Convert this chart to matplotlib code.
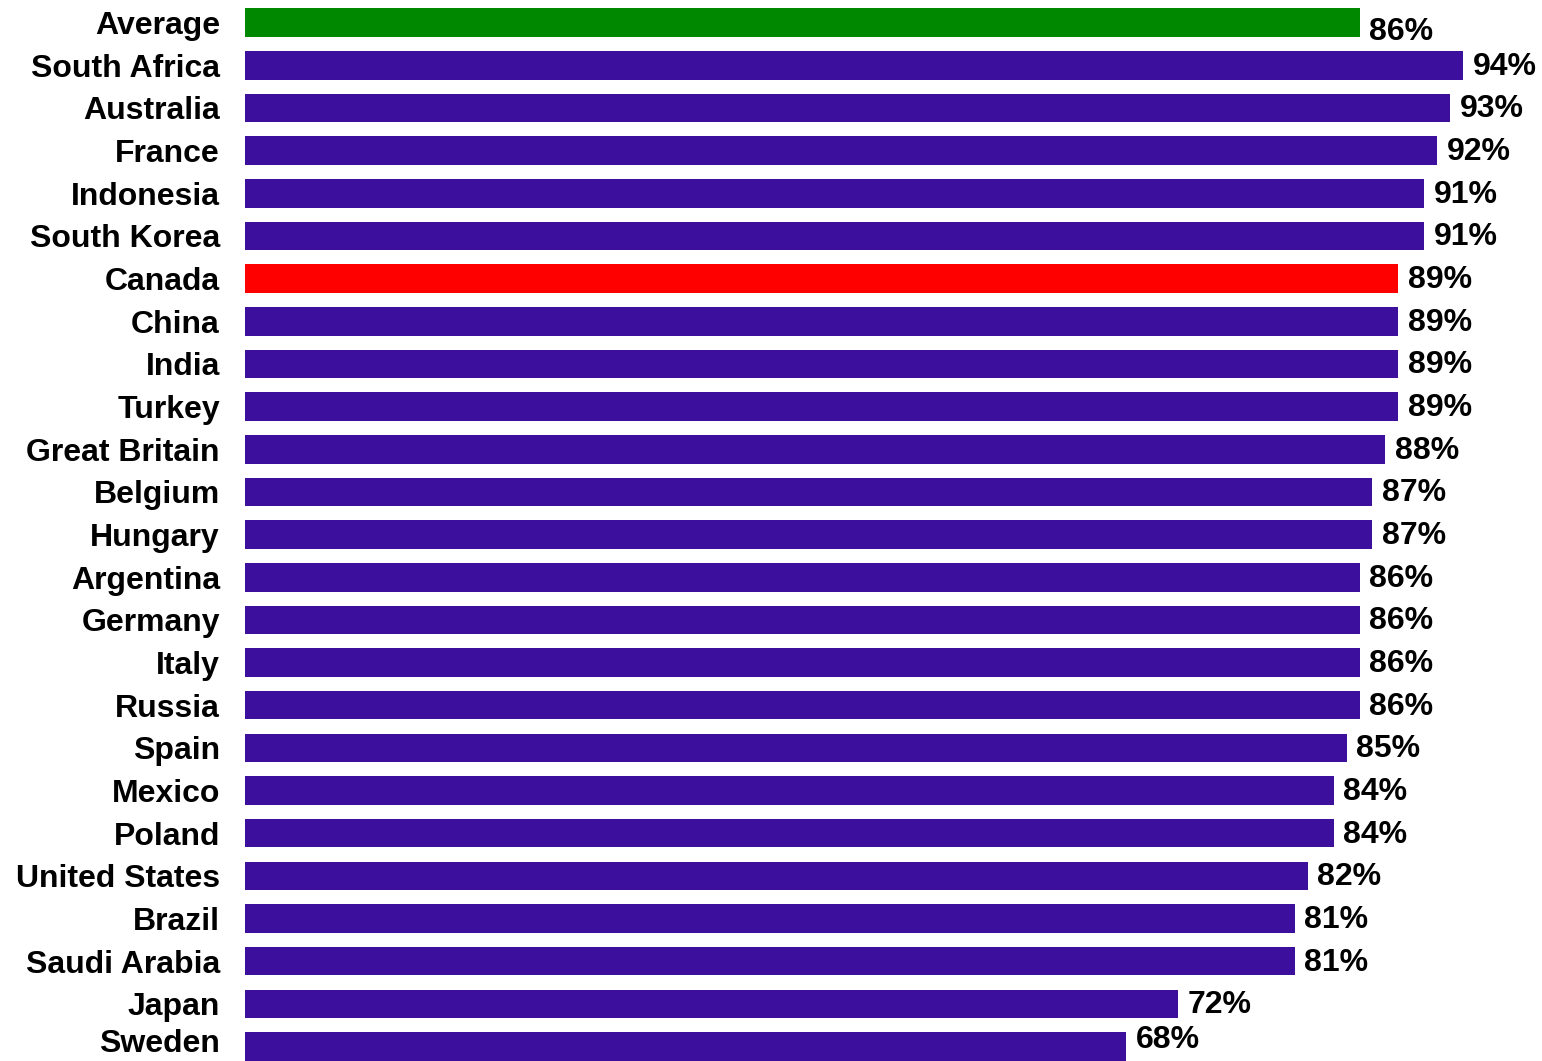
import matplotlib
matplotlib.use("Agg")
import matplotlib.pyplot as plt
import matplotlib.transforms as mtransforms

countries = ["Average", "South Africa", "Australia", "France", "Indonesia", "South Korea",
             "Canada", "China", "India", "Turkey", "Great Britain", "Belgium", "Hungary",
             "Argentina", "Germany", "Italy", "Russia", "Spain", "Mexico", "Poland",
             "United States", "Brazil", "Saudi Arabia", "Japan", "Sweden"]
values = [86, 94, 93, 92, 91, 91, 89, 89, 89, 89, 88, 87, 87, 86, 86, 86, 86, 85, 84, 84,
          82, 81, 81, 72, 68]

PURPLE = "#3C109C"
GREEN = "#008800"
RED = "#FF0000"
colors = []
for c in countries:
    if c == "Average":
        colors.append(GREEN)
    elif c == "Canada":
        colors.append(RED)
    else:
        colors.append(PURPLE)

plt.rcParams['font.family'] = ['Liberation Sans', 'DejaVu Sans']

fig = plt.figure(figsize=(15.42, 10.61), dpi=100)
ax = fig.add_axes([245 / 1542, 0, 1 - 245 / 1542, 1])

ypos = list(range(len(countries)))
ax.barh(ypos, values, height=0.67, color=colors)

ax.set_xlim(0, 100.08)
ax.set_ylim(24.34, -0.53)

ax.set_yticks(ypos)
ax.set_yticklabels(countries, fontsize=23, fontweight='bold')
ax.tick_params(axis='y', length=0, pad=18)
ax.set_xticks([])
for s in ax.spines.values():
    s.set_visible(False)

# nudge the last tick label up slightly so it is not cut at the bottom edge
last = ax.get_yticklabels()[-1]
last.set_transform(last.get_transform() + mtransforms.ScaledTranslation(0, 4 / 72, fig.dpi_scale_trans))

for i, (y, v) in enumerate(zip(ypos, values)):
    dy = -1
    if i == 0:
        dy = -7
    elif i == len(values) - 1:
        dy = 5
    ax.annotate(f"{v}%", xy=(v, y), xytext=(7, dy), textcoords='offset points',
                ha='left', va='center', fontsize=23, fontweight='bold', color='black')

fig.savefig("out.png", dpi=100)
